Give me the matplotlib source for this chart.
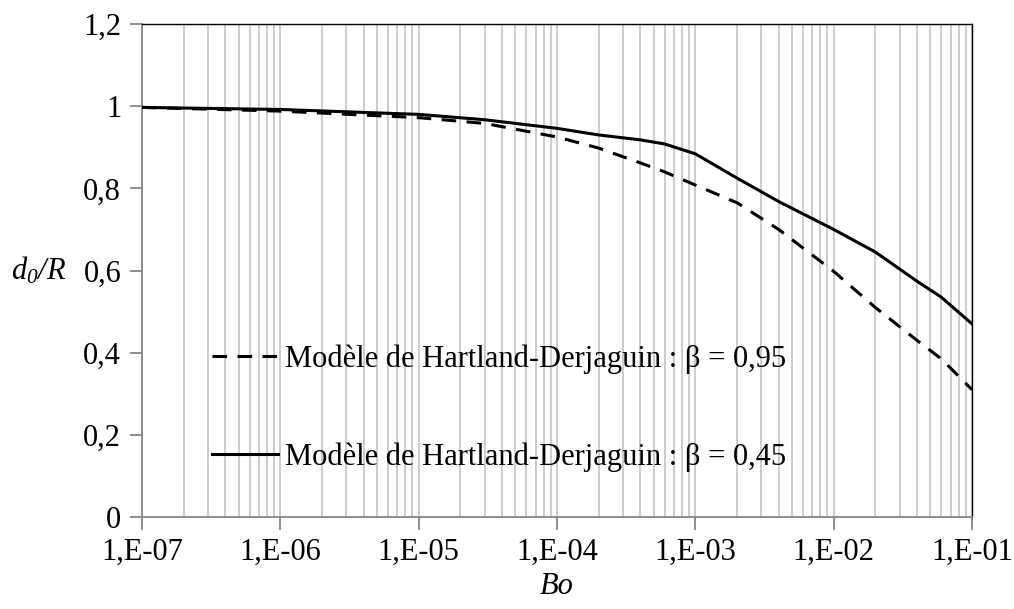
import numpy as np
import matplotlib
matplotlib.use("Agg")
import matplotlib.pyplot as plt
from matplotlib.ticker import LogLocator, NullFormatter, FixedLocator

plt.rcParams['font.family'] = ['Liberation Serif', 'DejaVu Serif']
plt.rcParams['mathtext.fontset'] = 'custom'
plt.rcParams['mathtext.rm'] = 'Liberation Serif:italic'
plt.rcParams['mathtext.it'] = 'Liberation Serif:italic'
plt.rcParams['lines.scale_dashes'] = False

# Bond number and reduced film thickness for the two beta values
bo = [1e-7, 1e-6, 1e-5, 3e-5, 1e-4, 2e-4, 4e-4, 6e-4, 1e-3, 2e-3, 4e-3,
      1e-2, 2e-2, 4e-2, 6e-2, 1e-1]
d0_beta095 = [0.997, 0.988, 0.972, 0.958, 0.925, 0.898, 0.862, 0.840, 0.808,
              0.765, 0.700, 0.598, 0.510, 0.430, 0.385, 0.310]
d0_beta045 = [0.997, 0.992, 0.980, 0.967, 0.946, 0.930, 0.918, 0.908, 0.884,
              0.825, 0.768, 0.700, 0.645, 0.574, 0.535, 0.470]
labels = ['Modèle de Hartland-Derjaguin : β = 0,95',
          'Modèle de Hartland-Derjaguin : β = 0,45']
xticks = [1e-7, 1e-6, 1e-5, 1e-4, 1e-3, 1e-2, 1e-1]
xticklabels = ['1,E-07', '1,E-06', '1,E-05', '1,E-04', '1,E-03', '1,E-02', '1,E-01']
yticks = [0, 0.2, 0.4, 0.6, 0.8, 1.0, 1.2]
yticklabels = ['0', '0,2', '0,4', '0,6', '0,8', '1', '1,2']

fs = 22
fig = plt.figure(figsize=(10.14, 6.09), dpi=100)
ax = fig.add_axes([0.140, 0.151, 0.8186, 0.8096])

ax.plot(bo, d0_beta095, color='black', lw=2.2, linestyle=(0, (10.5, 7.5)),
        label=labels[0], zorder=3)
ax.plot(bo, d0_beta045, color='black', lw=2.2, label=labels[1], zorder=3)

ax.set_xscale('log')
ax.set_xlim(1e-7, 1e-1)
ax.set_ylim(0, 1.2)

ax.xaxis.set_major_locator(FixedLocator(xticks))
ax.set_xticklabels(xticklabels)
ax.xaxis.set_minor_locator(LogLocator(base=10, subs=np.arange(2, 10)))
ax.xaxis.set_minor_formatter(NullFormatter())
ax.set_yticks(yticks)
ax.set_yticklabels(yticklabels)

# vertical grid on every decade and sub-decade
ax.grid(True, which='both', axis='x', color='#bfbfbf', lw=1.1, zorder=0)
ax.set_axisbelow(True)

gray = '#868686'
for side in ['left', 'bottom']:
    ax.spines[side].set_color(gray)
    ax.spines[side].set_linewidth(1.3)
for side in ['top', 'right']:
    ax.spines[side].set_color('black')
    ax.spines[side].set_linewidth(1.0)

ax.tick_params(axis='both', which='major', direction='out', length=9,
               width=1.3, color=gray, labelsize=fs, pad=6)
ax.tick_params(axis='x', which='minor', length=0)
ax.tick_params(axis='x', which='major', pad=6)

ax.set_xlabel('Bo', fontsize=fs, style='italic', labelpad=4)
ax.text(-0.158, 0.6, r'$d_0/R$', transform=ax.get_yaxis_transform(),
        fontsize=fs, ha='left', va='center')

ax.legend(loc='lower left', bbox_to_anchor=(0.066, 0.061), frameon=False,
          fontsize=fs, handlelength=2.16, handletextpad=0.23,
          labelspacing=2.23, borderpad=0)

fig.savefig('out.png', dpi=100)
